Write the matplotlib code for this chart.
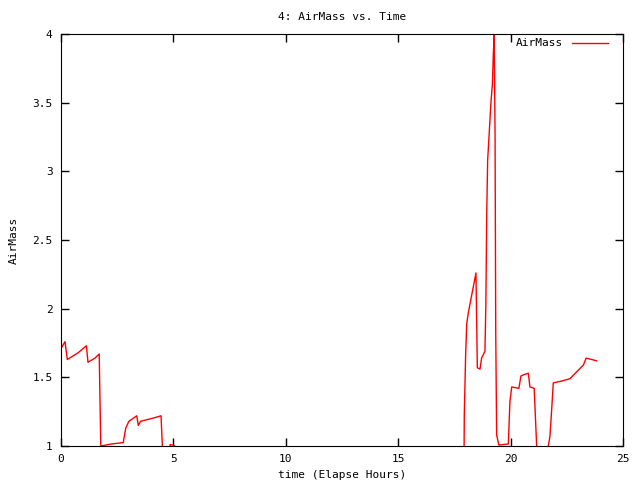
import numpy as np
import matplotlib
matplotlib.use("Agg")
import matplotlib.pyplot as plt
from matplotlib.ticker import FuncFormatter

# elapsed hours and airmass (values below 1 are off-scale, clipped like gnuplot)
hours = [0.0, 0.18, 0.28, 0.77, 1.13, 1.20, 1.51, 1.70, 1.77, 2.25, 2.77, 2.88,
         3.02, 3.37, 3.44, 3.54, 4.03, 4.45, 4.51, 4.55, 4.80, 4.85, 5.04, 5.10,
         10.0, 17.90, 17.94, 18.00, 18.05, 18.12, 18.46, 18.49, 18.52, 18.64,
         18.71, 18.86, 18.90, 18.94, 18.98, 19.05, 19.13, 19.19, 19.23, 19.27,
         19.31, 19.34, 19.38, 19.48, 19.90, 19.97, 20.05, 20.37, 20.46, 20.60,
         20.79, 20.86, 21.05, 21.16, 21.20, 21.64, 21.68, 21.75, 21.83, 21.90,
         22.20, 22.64, 22.94, 23.24, 23.36, 23.61, 23.83]
airmass = [1.71, 1.76, 1.63, 1.68, 1.73, 1.61, 1.64, 1.67, 1.00, 1.015, 1.025, 1.13,
           1.18, 1.22, 1.15, 1.18, 1.20, 1.22, 1.00, 0.0, 0.0, 1.01, 1.005, 0.0,
           0.0, 0.0, 1.22, 1.66, 1.89, 1.97, 2.26, 1.92, 1.57, 1.56,
           1.64, 1.69, 2.03, 2.70, 3.08, 3.28, 3.51, 3.63, 3.84, 3.99,
           3.26, 1.82, 1.08, 1.007, 1.015, 1.32, 1.43, 1.42, 1.51, 1.52,
           1.53, 1.43, 1.42, 1.00, 0.0, 0.0, 1.00, 1.07, 1.27, 1.46,
           1.47, 1.49, 1.54, 1.59, 1.64, 1.63, 1.62]

xticks = [0, 5, 10, 15, 20, 25]
yticks = [1, 1.5, 2, 2.5, 3, 3.5, 4]

plt.rcParams["font.family"] = "DejaVu Sans Mono"
plt.rcParams["font.size"] = 8

fig = plt.figure(figsize=(6.4, 4.8), dpi=100)
ax = fig.add_axes([0.0953, 0.0708, 0.8781, 0.8584])

ax.plot(hours, airmass, color="#ff0000", lw=1.0, label="AirMass")
ax.set_xlim(0, 25)
ax.set_ylim(1, 4)
ax.set_xticks(xticks)
ax.set_yticks(yticks)
fmt = FuncFormatter(lambda v, p: "%g" % v)
ax.xaxis.set_major_formatter(fmt)
ax.yaxis.set_major_formatter(fmt)
ax.tick_params(direction="in", length=6, width=1, top=True, right=True, pad=6)

ax.set_title("4: AirMass vs. Time", fontsize=8, pad=10)
ax.set_xlabel("time (Elapse Hours)", labelpad=4)
ax.set_ylabel("AirMass", labelpad=10)

ax.legend(loc="upper right", bbox_to_anchor=(0.988, 1.008), frameon=False,
          markerfirst=False, handlelength=3.3, borderaxespad=0.3, fontsize=8)

fig.savefig("out.png", dpi=100)
